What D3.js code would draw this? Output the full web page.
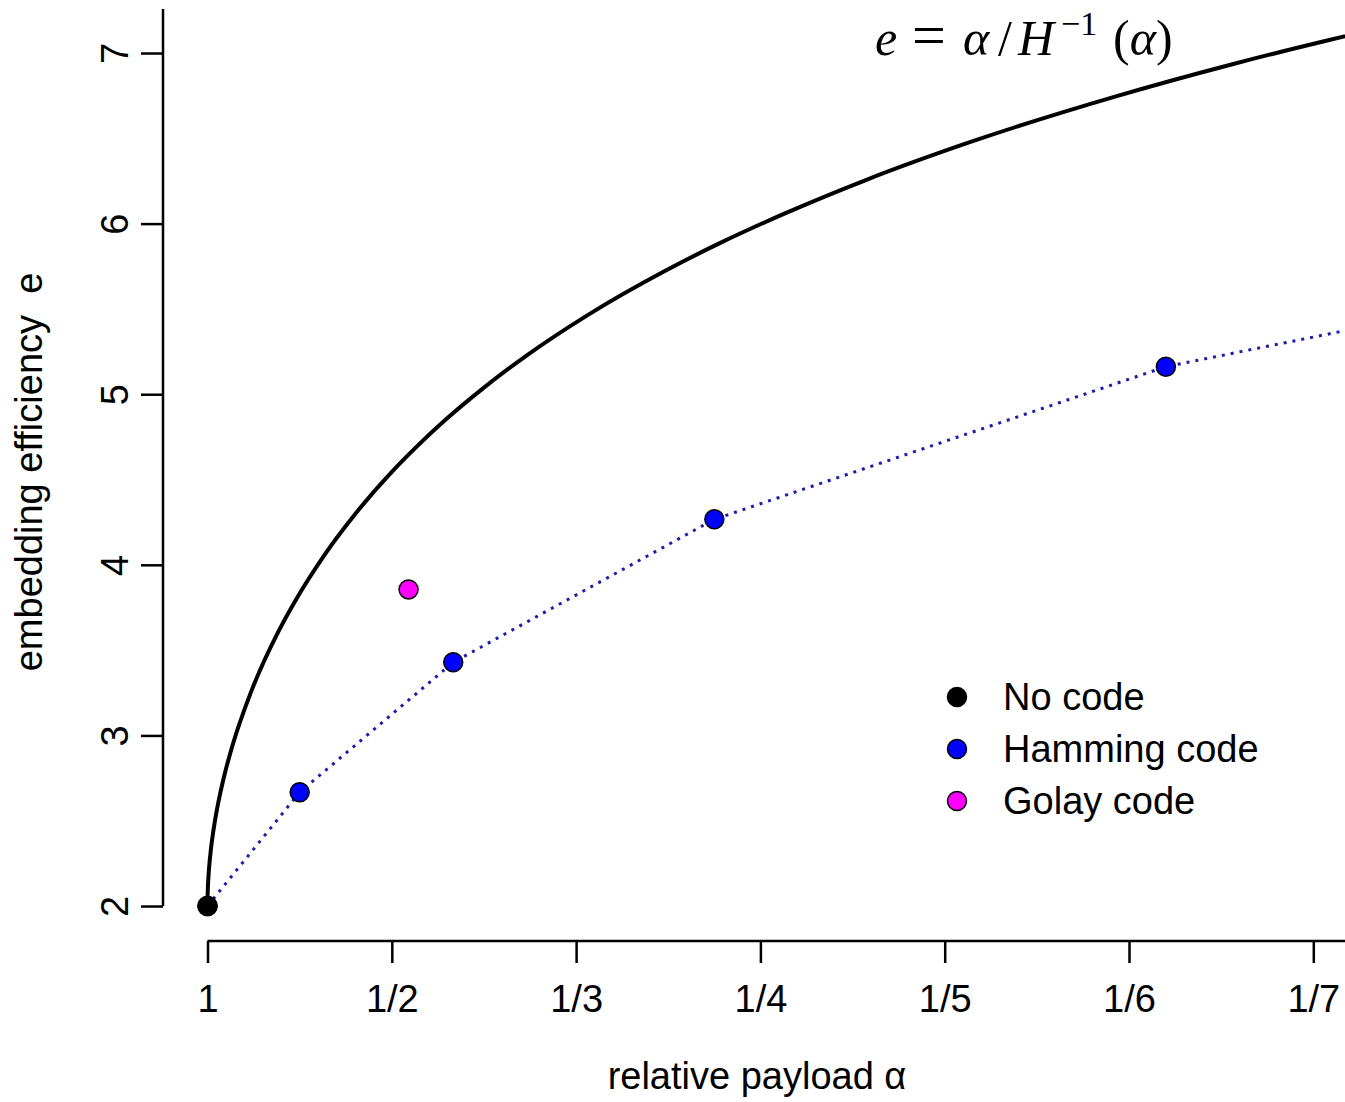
<!DOCTYPE html>
<html>
<head>
<meta charset="utf-8">
<script src="https://cdn.jsdelivr.net/npm/d3@7"></script>
<style>
  body { margin: 0; background: #fff; }
  svg { display: block; }
  .axis text { font-family: 'Liberation Sans', Arial, sans-serif; font-size: 38px; fill: #000; }
  .axis path, .axis line { stroke: #000; stroke-width: 2.5px; }
</style>
</head>
<body>
<svg id="chart"></svg>
<script>
// x is plotted as 1/alpha, so tick k reads "1/k"
const xTicks = [1, 2, 3, 4, 5, 6, 7];
const xTickLabels = ['1', '1/2', '1/3', '1/4', '1/5', '1/6', '1/7'];
const yTicks = [2, 3, 4, 5, 6, 7];

// bound e = alpha / H^-1(alpha) (1/alpha, e)
const boundInvAlpha = [1, 1.00007, 1.00029, 1.00116, 1.00465, 1.00725, 1.01889, 1.0299, 1.0438, 1.0706,
  1.093, 1.1347, 1.2326, 1.3852, 1.4704, 1.6398, 1.794, 2.0003, 2.1322, 2.2912, 2.4865, 2.7328,
  3.0539, 3.4916, 3.7769, 4.1273, 4.5688, 5.1443, 5.929, 6.556, 7.07, 7.364];
const boundE = [2, 2.02, 2.04, 2.081, 2.164, 2.206, 2.337, 2.427, 2.521, 2.669,
  2.773, 2.938, 3.245, 3.61, 3.778, 4.066, 4.288, 4.545, 4.69, 4.85, 5.027, 5.228,
  5.458, 5.728, 5.884, 6.057, 6.254, 6.48, 6.746, 6.933, 7.072, 7.147];

// Hamming codes (last one lies past the right edge)
const hammingInvAlpha = [1, 1.5, 2.3333, 3.75, 6.2, 10.5];
const hammingE = [2, 2.6667, 3.4286, 4.2667, 5.1613, 6.0952];

const golayInvAlpha = [2.0909];
const golayE = [3.856];

const noCodeInvAlpha = [1];
const noCodeE = [2];

const legendLabels = ['No code', 'Hamming code', 'Golay code'];
const colors = { 'No code': '#000000', 'Hamming code': '#0000ff', 'Golay code': '#ff00ff' };

const W = 1345, H = 1102;
const margin = { top: 9, right: 0, bottom: 161, left: 163 };
const width = W - margin.left - margin.right,
      height = H - margin.top - margin.bottom;

const svg = d3.select('#chart')
  .attr('width', W)
  .attr('height', H);

const g = svg.append('g')
  .attr('transform', `translate(${margin.left},${margin.top})`);

// scales
const x = d3.scaleLinear().domain([0.7585, 7.172]).range([0, width]);
const y = d3.scaleLinear().domain([1.795, 7.258]).range([height, 0]);

g.append('clipPath').attr('id', 'plot-clip')
  .append('rect')
  .attr('width', width)
  .attr('height', height);

// x axis
const xAxis = g.append('g')
  .attr('class', 'axis')
  .attr('transform', `translate(0,${height})`)
  .call(d3.axisBottom(x)
    .tickValues(xTicks)
    .tickFormat((d, i) => xTickLabels[i])
    .tickSize(22)
    .tickSizeOuter(0)
    .tickPadding(22));
xAxis.select('.domain').attr('d', `M${x(xTicks[0])},0H${width}`);

// y axis, labels turned like R does
const yAxis = g.append('g')
  .attr('class', 'axis')
  .call(d3.axisLeft(y)
    .tickValues(yTicks)
    .tickFormat(d3.format('d'))
    .tickSize(22)
    .tickSizeOuter(0));
yAxis.select('.domain').attr('d', `M0,${y(yTicks[0])}V0`);
yAxis.selectAll('.tick text')
  .attr('x', 0)
  .attr('dy', 0)
  .attr('text-anchor', 'middle')
  .attr('transform', 'translate(-35,0) rotate(-90)');

// axis titles
svg.append('text')
  .attr('x', 757)
  .attr('y', 1089)
  .attr('text-anchor', 'middle')
  .style('font-family', "'Liberation Sans', Arial, sans-serif")
  .style('font-size', '38px')
  .text('relative payload α');

svg.append('text')
  .attr('transform', 'translate(42,472) rotate(-90)')
  .attr('text-anchor', 'middle')
  .style('font-family', "'Liberation Sans', Arial, sans-serif")
  .style('font-size', '38px')
  .style('white-space', 'pre')
  .text('embedding efficiency  e');

const plot = g.append('g').attr('clip-path', 'url(#plot-clip)');

// bound curve
const bound = boundInvAlpha.map((v, i) => [v, boundE[i]]);
plot.append('path')
  .datum(bound)
  .attr('fill', 'none')
  .attr('stroke', '#000')
  .attr('stroke-width', 4)
  .attr('d', d3.line().x(d => x(d[0])).y(d => y(d[1])).curve(d3.curveMonotoneX));

// Hamming dotted line
const hamming = hammingInvAlpha.map((v, i) => [v, hammingE[i]]);
plot.append('path')
  .datum(hamming)
  .attr('fill', 'none')
  .attr('stroke', '#1c1ca8')
  .attr('stroke-width', 3)
  .attr('stroke-dasharray', '3,6')
  .attr('d', d3.line().x(d => x(d[0])).y(d => y(d[1])));

// points
function drawPoints(xs, ys, fill) {
  plot.selectAll(null)
    .data(xs.map((v, i) => [v, ys[i]]))
    .enter()
    .append('circle')
    .attr('cx', d => x(d[0]))
    .attr('cy', d => y(d[1]))
    .attr('r', 9.5)
    .attr('fill', fill)
    .attr('stroke', '#000')
    .attr('stroke-width', 1.5);
}
drawPoints(hammingInvAlpha, hammingE, colors['Hamming code']);
drawPoints(golayInvAlpha, golayE, colors['Golay code']);
drawPoints(noCodeInvAlpha, noCodeE, colors['No code']);

// legend
const legend = svg.append('g')
  .attr('transform', 'translate(957,697)');
const items = legend.selectAll('g')
  .data(legendLabels)
  .enter()
  .append('g')
  .attr('transform', (d, i) => `translate(0,${i * 52})`);
items.append('circle')
  .attr('r', 9.5)
  .attr('fill', d => colors[d])
  .attr('stroke', '#000')
  .attr('stroke-width', 1.5);
items.append('text')
  .attr('x', 46)
  .attr('y', 13)
  .style('font-family', "'Liberation Sans', Arial, sans-serif")
  .style('font-size', '38px')
  .text(d => d);

// formula
const f = svg.append('text')
  .attr('y', 55)
  .style('font-family', "'Liberation Serif', 'Times New Roman', serif")
  .style('font-size', '50px');
f.append('tspan').attr('x', 875).style('font-style', 'italic').text('e');
f.append('tspan').attr('x', 912).style('font-size', '60px').text('=');
f.append('tspan').attr('x', 963).style('font-style', 'italic').text('α');
f.append('tspan').attr('x', 998).text('/');
f.append('tspan').attr('x', 1018).style('font-style', 'italic').text('H');
f.append('tspan').attr('x', 1061).attr('dy', -20).style('font-size', '34px').text('−1');
f.append('tspan').attr('x', 1113).attr('dy', 20).text('(');
f.append('tspan').style('font-style', 'italic').text('α');
f.append('tspan').text(')');
</script>
</body>
</html>
